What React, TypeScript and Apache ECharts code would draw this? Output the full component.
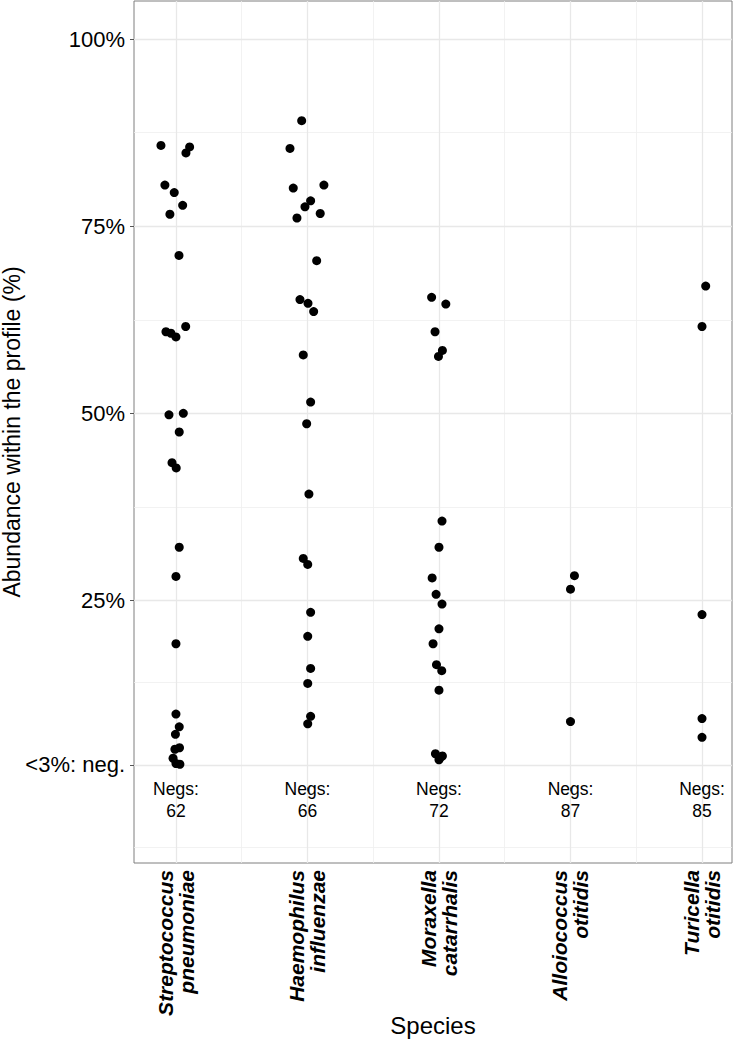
import React, { useEffect, useRef } from "react";
import * as echarts from "echarts";

const species = [
  "Streptococcus\npneumoniae",
  "Haemophilus\ninfluenzae",
  "Moraxella\ncatarrhalis",
  "Alloiococcus\notitidis",
  "Turicella\notitidis",
];
const negCounts = [62, 66, 72, 87, 85];

const yTickValues = [3, 25, 50, 75, 100];
const yTickLabels = ["<3%: neg.", "25%", "50%", "75%", "100%"];
const yMinorGrid = [-8, 14, 37.5, 62.5, 87.5];
const xMinorGrid = [1.5, 2.5, 3.5, 4.5];

// abundance (%) and horizontal jitter (in category units) per species
const strepValues = [85.8, 85.6, 84.8, 80.5, 79.5, 77.8, 76.6, 71.1, 61.6, 60.9, 60.7, 60.2, 50.0, 49.8, 47.5, 43.4, 42.7, 32.1, 28.2, 19.2, 9.8, 8.1, 7.1, 5.3, 5.1, 3.9, 3.2, 3.1];
const strepJitter = [-0.114, 0.104, 0.076, -0.084, -0.013, 0.051, -0.046, 0.023, 0.074, -0.076, -0.038, 0.0, 0.056, -0.053, 0.025, -0.03, 0.002, 0.025, 0.0, 0.0, 0.0, 0.025, -0.004, 0.027, -0.008, -0.022, 0.0, 0.03];

const haemValues = [89.1, 85.4, 80.5, 80.1, 78.4, 77.6, 76.7, 76.1, 70.4, 65.2, 64.7, 63.6, 57.8, 51.5, 48.6, 39.2, 30.6, 29.8, 23.4, 20.2, 15.9, 13.9, 9.5, 8.5];
const haemJitter = [-0.044, -0.133, 0.125, -0.108, 0.024, -0.019, 0.097, -0.08, 0.07, -0.057, 0.004, 0.047, -0.032, 0.024, -0.006, 0.011, -0.032, 0.002, 0.024, 0.002, 0.024, 0.002, 0.024, 0.002];

const moraxValues = [65.5, 64.6, 60.9, 58.4, 57.6, 35.6, 32.1, 28.0, 25.8, 24.5, 21.2, 19.2, 16.4, 15.6, 13.0, 4.5, 4.2, 3.9, 3.7];
const moraxJitter = [-0.056, 0.052, -0.03, 0.026, -0.004, 0.023, 0.0, -0.052, -0.022, 0.023, 0.0, -0.045, -0.019, 0.021, 0.0, -0.027, 0.026, 0.005, 0.0];

const alloValues = [28.3, 26.5, 8.8];
const alloJitter = [0.03, 0.0, 0.0];

const turiValues = [67.0, 61.6, 23.1, 9.2, 6.7];
const turiJitter = [0.028, 0.0, 0.0, 0.0, 0.0];

const groups = [
  { values: strepValues, jitter: strepJitter },
  { values: haemValues, jitter: haemJitter },
  { values: moraxValues, jitter: moraxJitter },
  { values: alloValues, jitter: alloJitter },
  { values: turiValues, jitter: turiJitter },
];

const FONT = "'Liberation Sans', Arial, Helvetica, sans-serif";

export default function App() {
  const ref = useRef<HTMLDivElement>(null);

  useEffect(() => {
    document.body.style.margin = "0";
    if (!ref.current) return;
    const chart = echarts.init(ref.current, null, { renderer: "svg" });

    const points: number[][] = [];
    groups.forEach((g, i) => {
      g.values.forEach((v, j) => points.push([i + 1 + g.jitter[j], v]));
    });

    const majorLine = { color: "#e8e8e8", width: 1.3, type: "solid" };
    const minorLine = { color: "#efefef", width: 0.8, type: "solid" };

    const option: any = {
      animation: false,
      backgroundColor: "#ffffff",
      textStyle: { fontFamily: FONT },
      grid: {
        left: 134,
        right: 1,
        top: 1,
        bottom: 187,
        show: true,
        borderColor: "#7f7f7f",
        borderWidth: 1,
        backgroundColor: "transparent",
      },
      xAxis: {
        type: "value",
        min: 0.681,
        max: 5.228,
        splitLine: { show: false },
        axisLine: { show: false },
        axisTick: {
          show: true,
          length: 4,
          lineStyle: { color: "#555" },
          customValues: [1, 2, 3, 4, 5],
        },
        axisLabel: {
          customValues: [1, 2, 3, 4, 5],
          rotate: 90,
          margin: 7,
          fontSize: 21,
          lineHeight: 21,
          fontStyle: "italic",
          fontWeight: "bold",
          color: "#000",
          fontFamily: FONT,
          formatter: (v: number) => species[Math.round(v) - 1] ?? "",
        },
      },
      yAxis: {
        type: "value",
        min: -10.1,
        max: 105.1,
        splitLine: { show: false },
        axisLine: { show: false },
        axisTick: {
          show: true,
          length: 4,
          lineStyle: { color: "#555" },
          customValues: yTickValues,
        },
        axisLabel: {
          customValues: yTickValues,
          margin: 9,
          fontSize: 22,
          color: "#000",
          fontFamily: FONT,
          formatter: (v: number) => {
            const idx = yTickValues.findIndex((t) => Math.abs(t - v) < 1e-6);
            return idx >= 0 ? yTickLabels[idx] : "";
          },
        },
      },
      graphic: [
        {
          type: "text",
          x: 12,
          y: 432,
          rotation: Math.PI / 2,
          style: {
            text: "Abundance within the profile (%)",
            font: `23px ${FONT}`,
            fill: "#000",
            align: "center",
            verticalAlign: "middle",
          },
        },
        {
          type: "text",
          x: 433,
          y: 1025,
          style: {
            text: "Species",
            font: `24px ${FONT}`,
            fill: "#000",
            align: "center",
            verticalAlign: "middle",
          },
        },
      ],
      series: [
        {
          type: "scatter",
          name: "grid",
          data: [],
          silent: true,
          z: 0,
          markLine: {
            silent: true,
            z: 0,
            zlevel: 0,
            symbol: ["none", "none"],
            label: { show: false },
            emphasis: { disabled: true },
            data: [
              ...yMinorGrid.map((v) => ({ yAxis: v, lineStyle: minorLine })),
              ...xMinorGrid.map((v) => ({ xAxis: v, lineStyle: minorLine })),
              ...yTickValues.map((v) => ({ yAxis: v, lineStyle: majorLine })),
              ...[1, 2, 3, 4, 5].map((v) => ({ xAxis: v, lineStyle: majorLine })),
            ],
          },
        },
        {
          type: "scatter",
          name: "abundance",
          data: points,
          symbol: "circle",
          symbolSize: 9,
          itemStyle: { color: "#000000", opacity: 1 },
          z: 6,
        },
        {
          type: "scatter",
          name: "negs",
          data: negCounts.map((_, i) => [i + 1, -1.65]),
          symbolSize: 0,
          silent: true,
          z: 6,
          itemStyle: { opacity: 1 },
          label: {
            show: true,
            position: "inside",
            fontSize: 17.5,
            lineHeight: 22,
            color: "#000",
            opacity: 1,
            fontFamily: FONT,
            formatter: (p: any) => `Negs:\n${negCounts[p.dataIndex]}`,
          },
        },
      ],
    };

    chart.setOption(option);
    return () => chart.dispose();
  }, []);

  return <div ref={ref} style={{ width: 733, height: 1050 }} />;
}
